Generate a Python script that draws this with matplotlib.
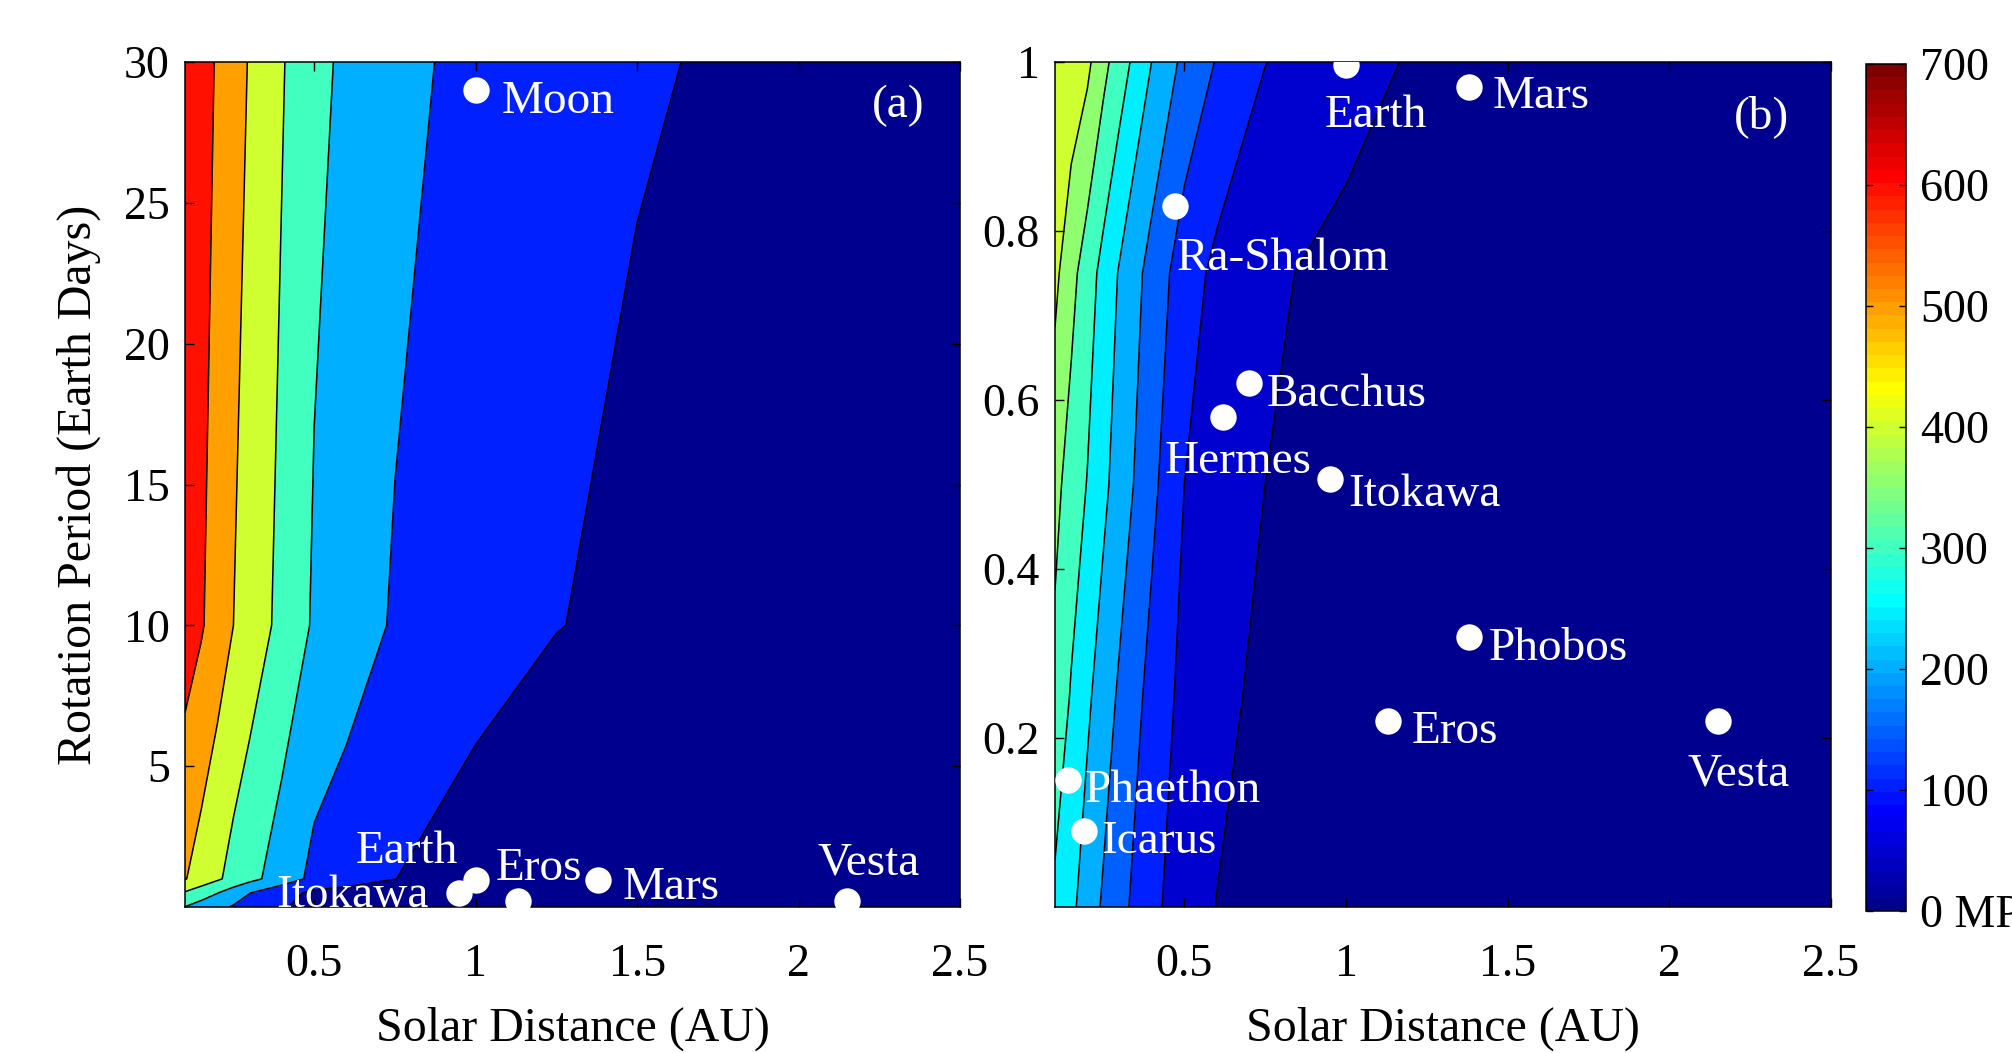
import numpy as np
import matplotlib
matplotlib.use("Agg")
import matplotlib.pyplot as plt
from matplotlib.colors import ListedColormap, Normalize
from matplotlib.cm import ScalarMappable

# ---------------- data ----------------
# grid nodes (solar distance, AU)
dist_nodes = [0.1, 0.15, 0.2, 0.25, 0.3, 0.4, 0.5, 0.6, 0.75, 1.0, 1.25, 1.5, 1.75, 2.0, 2.5]

# panel (a): rotation period nodes (Earth days) and stress (MPa)
period_nodes_a = [0, 0.5, 1, 10, 30]
stress_a_p0 = [298, 261, 225, 191, 162, 106, 75, 58, 45, 32, 25, 20, 17, 15, 11]
stress_a_p05 = [390, 346, 303, 253, 202, 136, 80, 65, 55, 40, 30, 25, 21, 18, 14]
stress_a_p1 = [505, 459, 414, 368, 329, 252, 175, 145, 101, 55, 40, 32, 27, 23, 17]
stress_a_p10 = [650, 610, 555, 500, 458, 373, 288, 249, 190, 140, 102, 85, 75, 65, 52]
stress_a_p30 = [695, 642, 590, 537, 494, 408, 322, 285, 229, 170, 135, 106, 95, 85, 70]

# panel (b)
period_nodes_b = [0, 0.25, 0.5, 0.75, 1.0]
stress_b_p0 = [290, 261, 226, 193, 166, 110, 78, 49, 35, 22, 16, 12, 10, 8, 6]
stress_b_p025 = [335, 296, 259, 225, 192, 133, 85, 64, 38, 25, 19, 15, 12, 10, 7]
stress_b_p05 = [365, 328, 298, 261, 228, 162, 100, 80, 50, 32, 24, 19, 16, 13, 9]
stress_b_p075 = [412, 366, 324, 283, 245, 181, 124, 88, 58, 36, 28, 23, 19, 16, 11]
stress_b_p1 = [446, 432, 411, 364, 324, 249, 187, 147, 101, 69.5, 40, 35, 29, 24, 17]

levels_a = [0, 100, 200, 300, 400, 500, 600, 700]
levels_b = [0, 50, 100, 150, 200, 250, 300, 350, 400, 450, 500, 550, 600, 650, 700]

bodies_a = ["Moon", "Earth", "Itokawa", "Eros", "Mars", "Vesta"]
dist_a = [1.0, 1.0, 0.95, 1.13, 1.38, 2.15]
period_a = [29.0, 0.97, 0.5, 0.22, 0.97, 0.22]

bodies_b = ["Earth", "Mars", "Ra-Shalom", "Bacchus", "Hermes", "Itokawa",
            "Phobos", "Eros", "Vesta", "Phaethon", "Icarus"]
dist_b = [1.0, 1.38, 0.47, 0.70, 0.62, 0.95, 1.38, 1.13, 2.15, 0.14, 0.19]
period_b = [0.997, 0.97, 0.83, 0.62, 0.58, 0.506, 0.32, 0.22, 0.22, 0.15, 0.09]

xticks = [0.5, 1, 1.5, 2, 2.5]
xticklabels = ["0.5", "1", "1.5", "2", "2.5"]
yticks_a = [5, 10, 15, 20, 25, 30]
yticks_b = [0.2, 0.4, 0.6, 0.8, 1.0]
yticklabels_b = ["0.2", "0.4", "0.6", "0.8", "1"]
cbar_ticks = [0, 100, 200, 300, 400, 500, 600, 700]
cbar_labels = ["0 MPa", "100", "200", "300", "400", "500", "600", "700"]

# ---------------- style / layout ----------------
DPI = 100
plt.rcParams["font.family"] = ["Liberation Serif", "DejaVu Serif"]
plt.rcParams["mathtext.fontset"] = "stix"

# label offsets in pixels (dx right, dy up) from marker centre
offs_a = {"Moon": (26, -23), "Earth": (-120, 17), "Itokawa": (-183, -14),
          "Eros": (-22, 21), "Mars": (24, -19), "Vesta": (-29, 26)}
offs_b = {"Earth": (-21, -62), "Mars": (24, -21), "Ra-Shalom": (2, -64),
          "Bacchus": (18, -23), "Hermes": (-59, -56), "Itokawa": (18, -27),
          "Phobos": (20, -23), "Eros": (24, -22), "Vesta": (-30, -64),
          "Phaethon": (17, -22), "Icarus": (17, -22)}


def matlab_jet(m=64):
    n = int(np.ceil(m / 4))
    u = np.concatenate([np.arange(1, n + 1) / n, np.ones(n - 1), np.arange(n, 0, -1) / n])
    g = int(np.ceil(n / 2)) - (1 if m % 4 == 1 else 0) + np.arange(1, len(u) + 1)
    r = g + n
    b = g - n
    J = np.zeros((m, 3))
    for idx, col in ((r, 0), (g, 1), (b, 2)):
        ok = (idx >= 1) & (idx <= m)
        J[idx[ok] - 1, col] = u[ok]
    return ListedColormap(J)


cmap = matlab_jet(64)
norm = Normalize(0, 700)

fig = plt.figure(figsize=(2012 / DPI, 1053 / DPI), dpi=DPI)
ax_a = fig.add_axes([185 / 2012, 1 - 907 / 1053, 775 / 2012, 845 / 1053])
ax_b = fig.add_axes([1055 / 2012, 1 - 907 / 1053, 776 / 2012, 845 / 1053])
cax = fig.add_axes([1866 / 2012, 1 - 911 / 1053, 40 / 2012, 847 / 1053])

FS_TICK = 33
FS_LAB = 34.5
FS_TXT = 34


def draw_panel(ax, pnodes, rows, levels, bodies, dists, periods, offs, ylim, tag, tagpos):
    X, Y = np.meshgrid(dist_nodes, pnodes)
    Z = np.array(rows, dtype=float)
    fills = [cmap(norm(v)) for v in levels[:-1]]
    ax.contourf(X, Y, Z, levels=levels, colors=fills)
    ax.contour(X, Y, Z, levels=levels, colors="k", linewidths=1.1)
    ax.plot(dists, periods, "o", color="white", ms=19, mec="none", zorder=5)
    for name, x, y in zip(bodies, dists, periods):
        dx, dy = offs[name]
        ax.annotate(name, (x, y), xytext=(dx * 72 / DPI, dy * 72 / DPI),
                    textcoords="offset points", ha="left", va="baseline",
                    color="white", fontsize=FS_TXT, clip_on=True, zorder=6)
    ax.text(tagpos[0], tagpos[1], tag, transform=ax.transAxes, color="white",
            fontsize=FS_TXT, ha="center", va="center", zorder=6)
    ax.set_xlim(0.1, 2.5)
    ax.set_ylim(*ylim)
    ax.set_xticks(xticks)
    ax.set_xticklabels(xticklabels)
    ax.tick_params(axis="both", direction="in", length=6.5, width=1.0,
                   top=True, right=True, labelsize=FS_TICK)
    ax.tick_params(axis="x", pad=26)
    ax.tick_params(axis="y", pad=11)
    for s in ax.spines.values():
        s.set_linewidth(1.1)
    ax.set_xlabel("Solar Distance (AU)", fontsize=FS_LAB)
    ax.xaxis.set_label_coords(0.5, -0.158)
    ax.xaxis.label.set_va("baseline")


draw_panel(ax_a, period_nodes_a,
           [stress_a_p0, stress_a_p05, stress_a_p1, stress_a_p10, stress_a_p30],
           levels_a, bodies_a, dist_a, period_a, offs_a, (0, 30), "(a)", (0.920, 0.948))
ax_a.set_yticks(yticks_a)
ax_a.set_ylabel("Rotation Period (Earth Days)", fontsize=FS_LAB)
ax_a.yaxis.set_label_coords(-0.108, 0.5)

draw_panel(ax_b, period_nodes_b,
           [stress_b_p0, stress_b_p025, stress_b_p05, stress_b_p075, stress_b_p1],
           levels_b, bodies_b, dist_b, period_b, offs_b, (0, 1), "(b)", (0.911, 0.935))
ax_b.set_yticks(yticks_b)
ax_b.set_yticklabels(yticklabels_b)

cb = fig.colorbar(ScalarMappable(norm=norm, cmap=cmap), cax=cax, ticks=cbar_ticks)
cb.ax.set_yticklabels(cbar_labels)
cb.ax.tick_params(direction="in", length=5, width=1.0, left=True, right=True,
                  labelsize=FS_TICK, pad=10)
cb.outline.set_linewidth(1.1)

fig.savefig("out.png", dpi=DPI)
